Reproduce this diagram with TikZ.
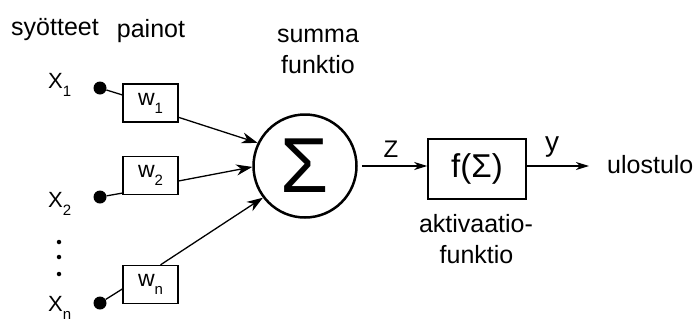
\documentclass[tikz,border=0pt]{standalone}
\usepackage{fontspec}
\setmainfont{Liberation Sans}
\usetikzlibrary{arrows.meta}
\newcommand\mysub[1]{\raisebox{-8pt}{\fontsize{15}{15}\selectfont #1}}
\begin{document}
\begin{tikzpicture}[x=1pt,y=1pt,
 lbl/.style={inner sep=0pt, font=\fontsize{25}{30}\selectfont},
 xlbl/.style={inner sep=0pt, anchor=base west, font=\fontsize{22}{24}\selectfont},
 dotn/.style={circle, fill=black, inner sep=0pt, minimum size=13pt},
 vdot/.style={circle, fill=black, inner sep=0pt, minimum size=4.5pt},
 wbox/.style={draw, line width=1.3pt, minimum width=55pt, minimum height=38pt, inner sep=0pt, font=\fontsize{23}{24}\selectfont},
 conn/.style={line width=1.3pt},
 arr/.style={line width=1.3pt, -{Stealth[length=16pt,width=11pt,inset=5pt]}},
 arrb/.style={line width=1.3pt, -{Stealth[length=13pt,width=8pt,inset=4pt]}},
]
\useasboundingbox (0,0) rectangle (696,-322);
% headings
\node[lbl, anchor=base] (syo) at (55,-35) {syötteet};
\node[lbl, anchor=base] (pai) at (151,-37) {painot};
\node[lbl, anchor=base] (sum) at (318,-42) {summa};
\node[lbl, anchor=base] (fun) at (318,-73) {funktio};
% input labels
\node[xlbl] (X1l) at (48,-88) {X\mysub{1}};
\node[xlbl] (X2l) at (48,-207) {X\mysub{2}};
\node[xlbl] (Xnl) at (48,-311) {X\mysub{n}};
\node[vdot] (d1) at (59,-242) {};
\node[vdot] (d2) at (59,-257) {};
\node[vdot] (d3) at (59,-274) {};
% input dots
\node[dotn] (x1) at (100,-88) {};
\node[dotn] (x2) at (100,-197) {};
\node[dotn] (xn) at (100,-303) {};
% weights
\node[wbox] (w1) at (150.5,-103) {w\mysub{1}};
\node[wbox] (w2) at (150.5,-175.5) {w\mysub{2}};
\node[wbox] (wn) at (150.5,-284.5) {w\mysub{n}};
% summation
\node[circle, draw, line width=2.5pt, minimum size=103pt, inner sep=0pt,
      font=\fontsize{78}{78}\selectfont] (sig) at (305,-166) {Σ};
% activation
\node[draw, line width=1.5pt, minimum width=98pt, minimum height=60pt, inner sep=0pt,
      font=\fontsize{33}{36}\selectfont] (f) at (477,-169) {f(Σ)};
\node[lbl, anchor=base] (akt) at (476,-232) {aktivaatio-};
\node[lbl, anchor=base] (fun2) at (476.5,-263) {funktio};
\node[lbl, anchor=west] (uout) at (607,-165) {ulostulo};
\coordinate (yend) at (589,-166);
\node[anchor=base, inner sep=0pt, font=\fontsize{24}{28}\selectfont] (zl) at (391,-157) {Z};
\node[anchor=base, inner sep=0pt, font=\fontsize{28}{32}\selectfont] (yl) at (552,-151) {y};
% connectors
\draw[conn] (x1) -- (w1.164);
\draw[conn] (x2) -- (w2.212);
\draw[conn] (xn) -- (wn.189);
\draw[arr] (w1.-27) -- (sig.154);
\draw[arr] (w2.-11) -- (sig.181);
\draw[arr] (wn.63) -- (sig.217);
\draw[arrb, shorten <=4pt] (sig.east) -- (f.west |- sig.east);
\draw[arrb] (f.east |- yend) -- (yend);
\end{tikzpicture}
\end{document}
